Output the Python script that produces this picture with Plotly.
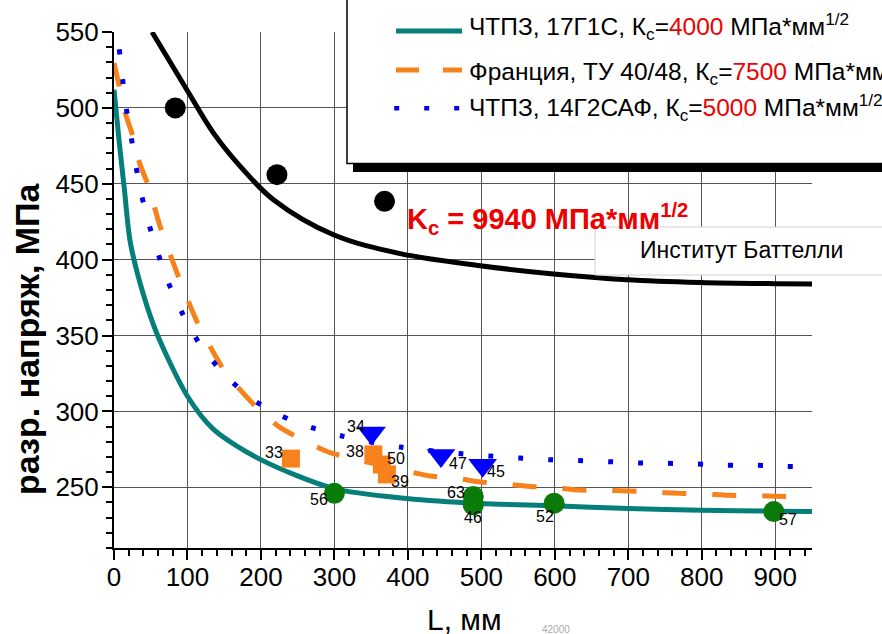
import plotly.graph_objects as go

# ---------------- data ----------------
teal_L = [0, 7, 14, 22, 40, 59, 100, 135.5, 199, 298.4, 398.6, 498, 598.6, 700, 800, 900, 950]
teal_S = [512, 478, 447, 412, 377, 350.5, 310, 288.2, 268.4, 249.3, 242.6, 239.3, 237.8, 236, 234.9, 234.2, 234]

orange_L = [0, 7.2, 15.4, 25.9, 34.8, 46.3, 61.6, 85.7, 113.8, 151.4, 196.8, 226.3, 262.6, 294.3, 398.6, 430.3,
            466.7, 498.4, 534.7, 566.4, 600.4, 632, 668, 734, 768, 802, 836, 870, 902, 950]
orange_S = [529.5, 514, 496.5, 481, 463.6, 449.3, 423.7, 391.3, 358.3, 325.9, 301.3, 289.3, 279.8, 272.8, 260.7, 257.4,
            255.9, 253.5, 252, 250.5, 249.8, 248.2, 248, 246.9, 246, 245.6, 244.7, 244.5, 244.1, 243.4]

blue_L = [7.2, 11.7, 16.7, 23.5, 29.9, 38, 48.4, 61.2, 75.7, 93.9, 116.5, 149.1, 188.6, 228.6, 269.4, 310, 389.5,
          471, 512, 551.8, 592.2, 632, 673, 713.7, 753.7, 794, 834, 874, 914.7, 950]
blue_S = [538.6, 519, 499.8, 480.5, 461.4, 441.6, 421.9, 402.2, 382.9, 363.8, 344.5, 324.8, 307.9, 296.9, 289.3, 283.8, 276.5,
          272.2, 270.6, 269.3, 268.2, 267.6, 266.9, 266, 265.8, 265.4, 264.5, 264.5, 263.8, 263.5]

black_L = [51.7, 99.3, 135.5, 171.8, 217, 298.8, 389.5, 498.4, 598, 698, 797.7, 899.7, 950]
black_S = [550, 511.8, 483.4, 461.5, 439.5, 416.4, 404, 396, 390.6, 386.8, 385, 384.2, 384]

battelle_L = [83.4, 221.8, 368.2]
battelle_S = [500, 456, 438.4]

green_L = [300, 489, 489, 599, 898]
green_S = [246, 244, 238.5, 239.5, 234]
green_lab = ["56", "63", "46", "52", "57"]
green_off = [(-15, -6), (-17, 4), (0, -13), (-9, -13), (14, -8)]

square_L = [240.8, 353, 364.6, 371.4]
square_S = [268.9, 271.7, 265, 258.5]
square_lab = ["33", "38", "50", "39"]
square_off = [(-17, 6), (-18, 3), (14, 6), (13, -7)]

tri_L = [350.5, 445, 501.7]
tri_S = [285.7, 271, 264.5]
tri_lab = ["34", "47", "45"]
tri_off = [(-16, 7), (17, -8), (13.5, -6)]

x_ticks = [0, 100, 200, 300, 400, 500, 600, 700, 800, 900]
y_ticks = [250, 300, 350, 400, 450, 500, 550]

legend_texts = [
    "ЧТПЗ, 17Г1С, К<sub>с</sub>=<span style='color:#ee0000'>4000</span> МПа*мм<sup>1/2</sup>",
    "Франция, ТУ 40/48, К<sub>с</sub>=<span style='color:#ee0000'>7500</span> МПа*мм<sup>1/2</sup>",
    "ЧТПЗ, 14Г2САФ, К<sub>с</sub>=<span style='color:#ee0000'>5000</span> МПа*мм<sup>1/2</sup>",
]

TEAL = "#067f7b"
ORANGE = "#f7821b"
BLUE = "#0000e6"
GREEN = "#0a7a0a"
FONT = "Liberation Sans"

# ---------------- geometry helpers (pixels -> paper) ----------------
W, H = 882, 634
PL, PR, PT, PB = 114, 812, 32, 548


def px(x):
    return (x - PL) / (PR - PL)


def py(y):
    return (PB - y) / (PB - PT)


fig = go.Figure()

fig.add_trace(go.Scatter(x=teal_L, y=teal_S, mode="lines", line=dict(color=TEAL, width=5, shape="spline", smoothing=0.8), hoverinfo="skip"))
fig.add_trace(go.Scatter(x=orange_L, y=orange_S, mode="lines", line=dict(color=ORANGE, width=5, dash="24px,26px", shape="spline", smoothing=0.6), hoverinfo="skip"))
fig.add_trace(go.Scatter(x=blue_L, y=blue_S, mode="lines", line=dict(color=BLUE, width=5, dash="5px,25px", shape="spline", smoothing=0.6), hoverinfo="skip"))
fig.add_trace(go.Scatter(x=black_L, y=black_S, mode="lines", line=dict(color="black", width=5, shape="spline", smoothing=1.0), hoverinfo="skip"))

fig.add_trace(go.Scatter(x=battelle_L, y=battelle_S, mode="markers", marker=dict(color="black", size=21, symbol="circle"), hoverinfo="skip"))
fig.add_trace(go.Scatter(x=green_L, y=green_S, mode="markers", marker=dict(color=GREEN, size=21, symbol="circle"), hoverinfo="skip"))
fig.add_trace(go.Scatter(x=square_L, y=square_S, mode="markers", marker=dict(color=ORANGE, size=18, symbol="square"), hoverinfo="skip"))
fig.add_trace(go.Scatter(x=tri_L, y=tri_S, mode="markers", marker=dict(color="#0000ff", size=25, symbol="triangle-down"), hoverinfo="skip"))

annotations = []
for Ls, Ss, labs, offs in [(green_L, green_S, green_lab, green_off),
                           (square_L, square_S, square_lab, square_off),
                           (tri_L, tri_S, tri_lab, tri_off)]:
    for xv, yv, t, (dx, dy) in zip(Ls, Ss, labs, offs):
        annotations.append(dict(x=xv, y=yv, xref="x", yref="y", text=t, showarrow=False,
                                xshift=dx, yshift=dy, font=dict(family=FONT, size=16, color="black"),
                                xanchor="center", yanchor="middle"))

shapes = []
# legend box + shadow
shapes.append(dict(type="rect", xref="paper", yref="paper", x0=px(353), x1=px(900), y0=py(172), y1=py(164),
                   fillcolor="black", line=dict(width=0), layer="above"))
shapes.append(dict(type="rect", xref="paper", yref="paper", x0=px(347), x1=px(900), y0=py(163.5), y1=py(-10),
                   fillcolor="white", line=dict(color="black", width=1.5), layer="above"))
# legend samples
shapes.append(dict(type="line", xref="paper", yref="paper", x0=px(396), x1=px(462), y0=py(31), y1=py(31),
                   line=dict(color=TEAL, width=5), layer="above"))
for a, b in [(396, 419), (443, 462)]:
    shapes.append(dict(type="line", xref="paper", yref="paper", x0=px(a), x1=px(b), y0=py(70), y1=py(70),
                       line=dict(color=ORANGE, width=5), layer="above"))
for c in [396.7, 426.7, 456.7]:
    shapes.append(dict(type="rect", xref="paper", yref="paper", x0=px(c - 2.5), x1=px(c + 2.5), y0=py(110.5), y1=py(106),
                       fillcolor=BLUE, line=dict(width=0), layer="above"))
# Battelle box
shapes.append(dict(type="rect", xref="paper", yref="paper", x0=px(595), x1=px(890), y0=py(275), y1=py(227),
                   fillcolor="white", line=dict(color="#d0d0d0", width=1), layer="above"))

for t, yc in zip(legend_texts, [27, 71, 107.5]):
    annotations.append(dict(x=px(467), y=py(yc), xref="paper", yref="paper", text=t, showarrow=False,
                            xanchor="left", yanchor="middle",
                            font=dict(family=FONT, size=24.5, color="black")))

annotations.append(dict(x=px(405), y=py(219), xref="paper", yref="paper",
                        text="<b>K<sub>c</sub> = 9940 МПа*мм<sup>1/2</sup></b>", showarrow=False,
                        xanchor="left", yanchor="middle", font=dict(family=FONT, size=29, color="#ee0000")))
annotations.append(dict(x=px(741), y=py(250), xref="paper", yref="paper", text="Институт Баттелли",
                        showarrow=False, xanchor="center", yanchor="middle",
                        font=dict(family=FONT, size=23, color="black")))
annotations.append(dict(x=px(27), y=py(339), xref="paper", yref="paper", text="<b>разр. напряж, МПа</b>",
                        showarrow=False, textangle=-90, xanchor="center", yanchor="middle",
                        font=dict(family=FONT, size=34, color="black")))
annotations.append(dict(x=px(464), y=py(619), xref="paper", yref="paper", text="L, мм",
                        showarrow=False, xanchor="center", yanchor="middle",
                        font=dict(family=FONT, size=30, color="black")))
annotations.append(dict(x=px(556), y=py(629), xref="paper", yref="paper", text="42000",
                        showarrow=False, xanchor="center", yanchor="middle",
                        font=dict(family=FONT, size=10, color="#aaaaaa")))

fig.update_layout(
    width=W, height=H, autosize=False,
    margin=dict(l=PL, r=W - PR, t=PT, b=H - PB, pad=0),
    paper_bgcolor="white", plot_bgcolor="white",
    showlegend=False,
    font=dict(family=FONT, color="black"),
    shapes=shapes, annotations=annotations,
    xaxis=dict(range=[0, 950], tickvals=x_ticks, ticks="outside", ticklen=10, tickwidth=2, tickcolor="black",
               showline=True, linecolor="black", linewidth=2, showgrid=True, gridcolor="#555555", gridwidth=1,
               zeroline=False, tickfont=dict(family=FONT, size=26, color="black"), ticklabelstandoff=-5,
               minor=dict(tick0=0, dtick=20, ticks="outside", ticklen=6, tickwidth=1.5, tickcolor="black", showgrid=False)),
    yaxis=dict(range=[210, 550], tickvals=y_ticks, ticks="outside", ticklen=10, tickwidth=2, tickcolor="black",
               showline=True, linecolor="black", linewidth=2, showgrid=True, gridcolor="#555555", gridwidth=1,
               zeroline=False, tickfont=dict(family=FONT, size=26, color="black"), ticklabelstandoff=-2,
               minor=dict(tick0=0, dtick=10, ticks="outside", ticklen=6, tickwidth=1.5, tickcolor="black", showgrid=False)),
)

fig.write_html("out.html", config={"displayModeBar": False},
               post_script="document.body.style.margin='0';document.body.style.padding='0';")
